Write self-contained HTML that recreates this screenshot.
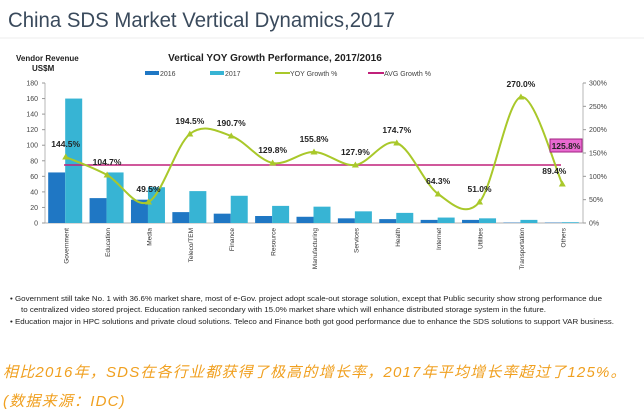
<!DOCTYPE html>
<html><head><meta charset="utf-8"><style>
body{margin:0;width:644px;height:419px;background:#fff;overflow:hidden;font-family:"Liberation Sans",sans-serif}
svg{position:absolute;left:0;top:0}
.cn{position:absolute;left:3px;color:#f0a020;font-style:italic;font-size:15px;letter-spacing:1.2px;font-family:"Liberation Sans","Noto Sans CJK SC",sans-serif;white-space:nowrap}
</style></head><body>
<svg id="s" width="644" height="419" xmlns="http://www.w3.org/2000/svg" font-family="Liberation Sans, sans-serif">
<text x="8" y="27" font-size="21" fill="#3a4a5c" textLength="387" lengthAdjust="spacingAndGlyphs">China SDS Market Vertical Dynamics,2017</text>
<line x1="0" y1="38" x2="644" y2="38" stroke="#eee"/>
<text x="16" y="61" font-size="8" font-weight="bold" fill="#222">Vendor Revenue</text>
<text x="32" y="71" font-size="8" font-weight="bold" fill="#222">US$M</text>
<text x="275" y="61" font-size="10" font-weight="bold" fill="#222" text-anchor="middle">Vertical YOY Growth Performance, 2017/2016</text>
<rect x="145" y="71" width="14" height="4" fill="#1f77c4"/><text x="160" y="76" font-size="7" fill="#444">2016</text>
<rect x="210" y="71" width="14" height="4" fill="#37b4d4"/><text x="225" y="76" font-size="7" fill="#444">2017</text>
<line x1="275" y1="73" x2="290" y2="73" stroke="#a9c82a" stroke-width="2"/><text x="290" y="76" font-size="7" fill="#444">YOY Growth %</text>
<line x1="368" y1="73" x2="384" y2="73" stroke="#c0207a" stroke-width="2"/><text x="384" y="76" font-size="7" fill="#444">AVG Growth %</text>
<g id="g"></g>
<text x="10" y="301" font-size="7" fill="#222" textLength="592" lengthAdjust="spacingAndGlyphs">•  Government still take No. 1 with 36.6% market share, most of e-Gov. project adopt scale-out storage solution, except that Public security show strong performance due</text>
<text x="21" y="312" font-size="7" fill="#222" textLength="525" lengthAdjust="spacingAndGlyphs">to centralized video stored project. Education ranked secondary with 15.0% market share which will enhance distributed storage system in the future.</text>
<text x="10" y="324" font-size="7" fill="#222" textLength="604" lengthAdjust="spacingAndGlyphs">•  Education major in HPC solutions and private cloud solutions. Teleco and Finance both got good performance due to enhance the SDS solutions to support VAR business.</text>
</svg>
<div class="cn" style="top:361px">相比2016年，SDS在各行业都获得了极高的增长率，2017年平均增长率超过了125%。</div>
<div class="cn" style="top:390px">(数据来源：IDC)</div>
<script>
var cats=["Government","Education","Media","Teleco/TEM","Finance","Resource","Manufacturing","Services","Health","Internet","Utilities","Transportation","Others"];
var a=[65,32,30,14,12,9,8,6,5,4,4,0.5,0.5],b=[160,65,46,41,35,22,21,15,13,7,6,4,1];
var gy=[157,175,202,134,136,163,152,165,143,194,202,97,184];
var lb=["144.5%","104.7%","49.5%","194.5%","190.7%","129.8%","155.8%","127.9%","174.7%","64.3%","51.0%","270.0%","89.4%"];
var x0=45,x1=583,y0=223,yt=83,w=(x1-x0)/13,k=(y0-yt)/180,h='';
h+='<line x1="'+x0+'" y1="'+yt+'" x2="'+x0+'" y2="'+y0+'" stroke="#999" stroke-width="0.7"/>';
h+='<line x1="'+x1+'" y1="'+yt+'" x2="'+x1+'" y2="'+y0+'" stroke="#999" stroke-width="0.7"/>';
h+='<line x1="'+x0+'" y1="'+y0+'" x2="'+x1+'" y2="'+y0+'" stroke="#999" stroke-width="0.7"/>';
for(var v=0;v<=180;v+=20){var y=y0-v*k;h+='<text x="38" y="'+(y+2.5)+'" font-size="7" fill="#444" text-anchor="end">'+v+'</text><line x1="42" y1="'+y+'" x2="45" y2="'+y+'" stroke="#999"/>';}
for(var p=0;p<=300;p+=50){var y=y0-p/300*(y0-yt);h+='<text x="589" y="'+(y+2.5)+'" font-size="7" fill="#444">'+p+'%</text><line x1="583" y1="'+y+'" x2="586" y2="'+y+'" stroke="#999"/>';}
var px=[];
for(var i=0;i<13;i++){var c=x0+w*i+w/2;px.push(c);
h+='<rect x="'+(c-17.5)+'" y="'+(y0-a[i]*k)+'" width="17" height="'+(a[i]*k)+'" fill="#1f77c4"/>';
h+='<rect x="'+(c-0.5)+'" y="'+(y0-b[i]*k)+'" width="17" height="'+(b[i]*k)+'" fill="#37b4d4"/>';
h+='<text transform="translate('+(c+3)+',228) rotate(-90)" font-size="6.5" fill="#333" text-anchor="end">'+cats[i]+'</text>';}
h+='<line x1="64" y1="165" x2="561" y2="165" stroke="#c0207a" stroke-width="1.5"/>';
var d='M'+px[0]+','+gy[0];
for(var i=0;i<12;i++){var p0=i?i-1:0,p3=i<11?i+2:12;
var c1x=px[i]+(px[i+1]-px[p0])/6,c1y=gy[i]+(gy[i+1]-gy[p0])/6,c2x=px[i+1]-(px[p3]-px[i])/6,c2y=gy[i+1]-(gy[p3]-gy[i])/6;
d+=' C'+c1x+','+c1y+' '+c2x+','+c2y+' '+px[i+1]+','+gy[i+1];}
h+='<path d="'+d+'" fill="none" stroke="#a9c82a" stroke-width="2"/>';
for(var i=0;i<13;i++){h+='<polygon points="'+px[i]+','+(gy[i]-3.5)+' '+(px[i]-3.5)+','+(gy[i]+2.5)+' '+(px[i]+3.5)+','+(gy[i]+2.5)+'" fill="#a9c82a"/>';
var ly=gy[i]-10,lx=px[i];if(i==12){lx=px[i]-8;}
h+='<text x="'+lx+'" y="'+ly+'" font-size="8.5" font-weight="bold" fill="#222" text-anchor="middle">'+lb[i]+'</text>';}
h+='<rect x="550" y="139" width="32" height="13" fill="#e86ad0" stroke="#a02080"/><text x="566" y="149" font-size="8.5" font-weight="bold" fill="#222" text-anchor="middle">125.8%</text>';
document.getElementById('g').innerHTML=h;
</script>
</body></html>
